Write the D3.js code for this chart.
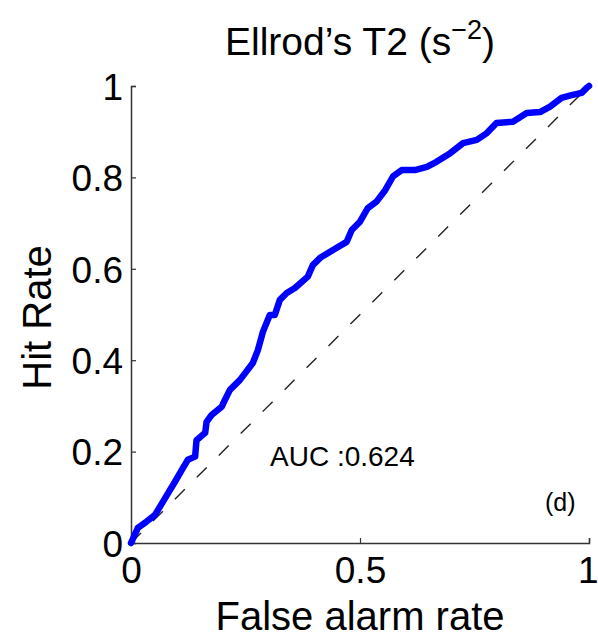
<!DOCTYPE html>
<html>
<head>
<meta charset="utf-8">
<script src="https://cdn.jsdelivr.net/npm/d3@7"></script>
<style>
  html, body { margin: 0; padding: 0; background: #fff; }
  svg text { font-family: "Liberation Sans", Arial, Helvetica, sans-serif; fill: #000; }
</style>
</head>
<body>
<svg id="chart" width="598" height="638"></svg>
<script>
// ROC curve for Ellrod's T2 turbulence index
const falseAlarmRate = [0, 0.015, 0.034, 0.052, 0.063, 0.081, 0.096, 0.111, 0.124, 0.140, 0.143, 0.162,
  0.165, 0.176, 0.198, 0.205, 0.216, 0.238, 0.266, 0.277, 0.288, 0.303, 0.314, 0.325, 0.340, 0.358,
  0.386, 0.397, 0.413, 0.441, 0.471, 0.482, 0.500, 0.517, 0.536, 0.555, 0.572, 0.591, 0.620, 0.646,
  0.667, 0.697, 0.725, 0.755, 0.777, 0.798, 0.834, 0.864, 0.893, 0.915, 0.940, 0.962, 0.984, 0.995, 1];
const hitRate = [0, 0.033, 0.047, 0.061, 0.079, 0.109, 0.134, 0.160, 0.182, 0.189, 0.225, 0.241,
  0.265, 0.280, 0.298, 0.313, 0.335, 0.357, 0.394, 0.422, 0.462, 0.499, 0.499, 0.532, 0.547, 0.558,
  0.583, 0.608, 0.624, 0.641, 0.659, 0.685, 0.703, 0.733, 0.747, 0.772, 0.802, 0.816, 0.816, 0.823,
  0.834, 0.853, 0.875, 0.882, 0.897, 0.919, 0.922, 0.941, 0.943, 0.955, 0.974, 0.980, 0.985, 0.996, 1];
const xTicks = [0, 0.5, 1];
const yTicks = [0, 0.2, 0.4, 0.6, 0.8, 1];
const aucValue = 0.624;
const titleText = "Ellrod\u2019s T2 (s";
const titleExponent = "\u22122";
const xLabel = "False alarm rate";
const yLabel = "Hit Rate";
const panelTag = "(d)";

const svg = d3.select("#chart");
const plotLeft = 131, plotRight = 589, plotTop = 86, plotBottom = 543;

const x = d3.scaleLinear().domain([0, 1]).range([plotLeft, plotRight]);
const y = d3.scaleLinear().domain([0, 1]).range([plotBottom, plotTop]);

const fmt = d => String(d);

// Axes with inward ticks
const xAxis = svg.append("g")
  .attr("transform", `translate(0,${plotBottom})`)
  .call(d3.axisBottom(x).tickValues(xTicks).tickSize(-5).tickPadding(14).tickFormat(fmt));
const yAxis = svg.append("g")
  .attr("transform", `translate(${plotLeft},0)`)
  .call(d3.axisLeft(y).tickValues(yTicks).tickSize(-5).tickPadding(8).tickFormat(fmt));

[xAxis, yAxis].forEach(g => {
  g.select(".domain").attr("stroke", "#333").attr("stroke-width", 1.5);
  g.selectAll(".tick line").attr("stroke", "#333").attr("stroke-width", 1.2);
  g.selectAll(".tick text")
    .attr("font-size", 37)
    .attr("font-family", "Liberation Sans, Arial, sans-serif")
    .attr("fill", "#000");
});
xAxis.selectAll(".tick text").attr("dy", "0.71em");
yAxis.selectAll(".tick text").attr("dy", "0.36em");
// keep the last x label inside the page edge
xAxis.selectAll(".tick text").filter(d => d === 1)
  .attr("text-anchor", "end")
  .attr("x", 598 - plotRight);

// Chance diagonal
svg.append("line")
  .attr("x1", x(0)).attr("y1", y(0))
  .attr("x2", x(1)).attr("y2", y(1))
  .attr("stroke", "#222")
  .attr("stroke-width", 1.4)
  .attr("stroke-dasharray", "14,17");

// ROC curve
const pts = falseAlarmRate.map((f, i) => [f, hitRate[i]]);
svg.append("path")
  .datum(pts)
  .attr("fill", "none")
  .attr("stroke", "#0000ff")
  .attr("stroke-width", 6.5)
  .attr("stroke-linejoin", "round")
  .attr("stroke-linecap", "round")
  .attr("d", d3.line().x(d => x(d[0])).y(d => y(d[1])));

// Title with superscript exponent
const title = svg.append("text")
  .attr("x", (plotLeft + plotRight) / 2)
  .attr("y", 55)
  .attr("text-anchor", "middle")
  .attr("font-size", 39);
title.append("tspan").text(titleText);
title.append("tspan").attr("font-size", 27).attr("dy", -16).text(titleExponent);
title.append("tspan").attr("dy", 16).text(")");

// Axis labels
svg.append("text")
  .attr("x", (plotLeft + plotRight) / 2)
  .attr("y", 630)
  .attr("text-anchor", "middle")
  .attr("font-size", 40)
  .text(xLabel);

svg.append("text")
  .attr("transform", `translate(51,${(plotTop + plotBottom) / 2 + 3}) rotate(-90)`)
  .attr("text-anchor", "middle")
  .attr("font-size", 40)
  .text(yLabel);

// Annotations
svg.append("text")
  .attr("x", 270)
  .attr("y", 466)
  .attr("font-size", 28)
  .text("AUC :" + aucValue.toFixed(3));

svg.append("text")
  .attr("x", 545)
  .attr("y", 511)
  .attr("font-size", 25)
  .text(panelTag);
</script>
</body>
</html>
